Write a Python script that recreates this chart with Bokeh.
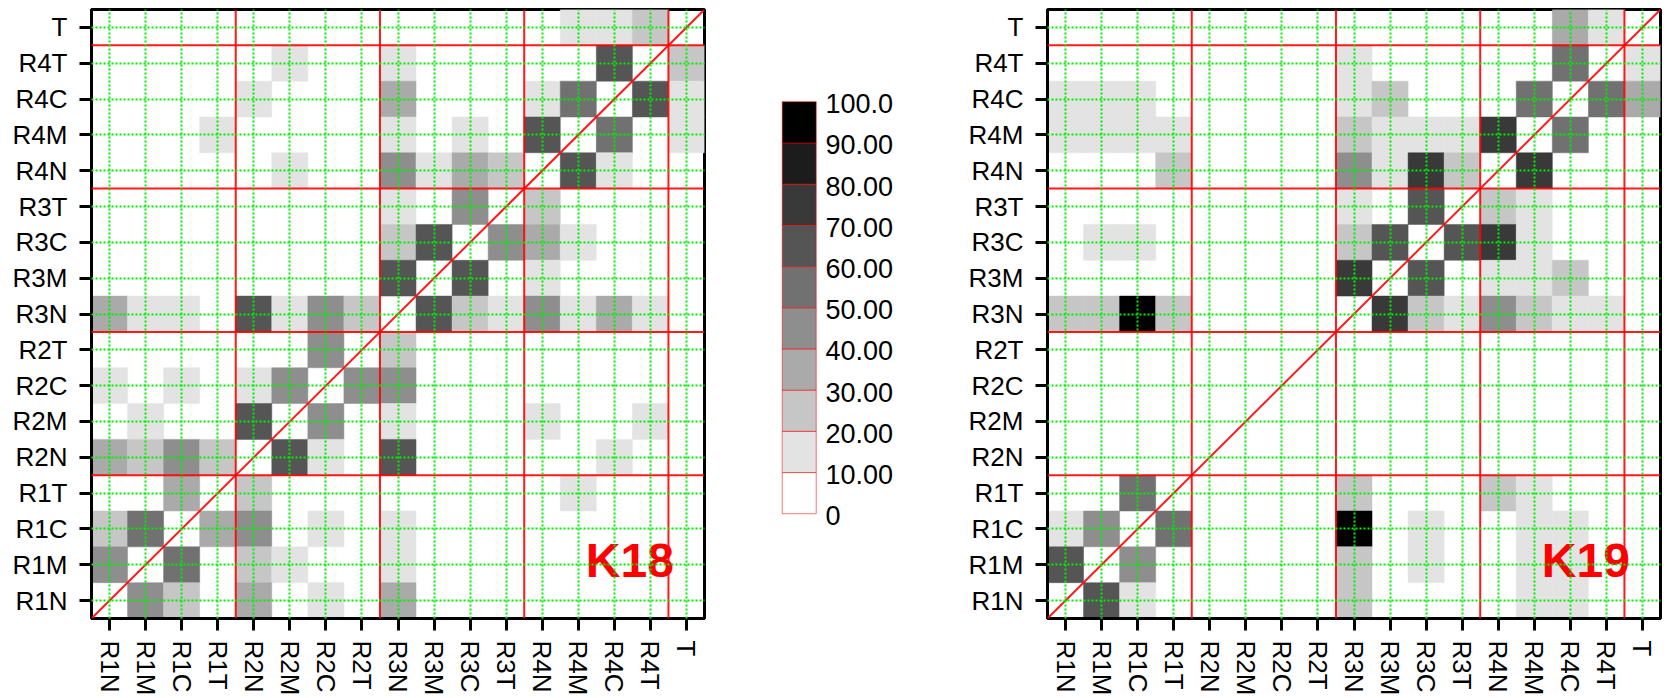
from bokeh.plotting import figure
from bokeh.models import Span, Slope, Label, FactorRange, Range1d, ColumnDataSource
from bokeh.layouts import row
from bokeh.transform import linear_cmap
from bokeh.embed import file_html
from bokeh.resources import INLINE
from bokeh.core.properties import value

FONT = "Liberation Sans"
INK = "#000000"

categories = ["R1N", "R1M", "R1C", "R1T", "R2N", "R2M", "R2C", "R2T",
              "R3N", "R3M", "R3C", "R3T", "R4N", "R4M", "R4C", "R4T", "T"]
group_starts = ["R2N", "R3N", "R4N", "T"]

levels = [0, 10, 20, 30, 40, 50, 60, 70, 80, 90, 100]
level_labels = ["0", "10.00", "20.00", "30.00", "40.00", "50.00",
                "60.00", "70.00", "80.00", "90.00", "100.0"]
palette = ["#ffffff", "#e3e3e3", "#c6c6c6", "#aaaaaa", "#8e8e8e",
           "#717171", "#555555", "#393939", "#1c1c1c", "#000000"]

# ---- K18 (rows top to bottom; columns R1N..T) ----
K18_T   = [0, 0, 0, 0, 0, 0, 0, 0, 0, 0, 0, 0, 0, 15, 15, 25, 0]
K18_R4T = [0, 0, 0, 0, 0, 15, 0, 0, 15, 0, 0, 0, 0, 0, 65, 0, 25]
K18_R4C = [0, 0, 0, 0, 15, 0, 0, 0, 35, 0, 0, 0, 15, 55, 0, 65, 15]
K18_R4M = [0, 0, 0, 15, 0, 0, 0, 0, 15, 0, 15, 0, 65, 0, 55, 0, 15]
K18_R4N = [0, 0, 0, 0, 0, 15, 0, 0, 45, 15, 35, 25, 0, 65, 15, 0, 0]
K18_R3T = [0, 0, 0, 0, 0, 0, 0, 0, 15, 0, 45, 0, 25, 0, 0, 0, 0]
K18_R3C = [0, 0, 0, 0, 0, 0, 0, 0, 25, 65, 0, 45, 35, 15, 0, 0, 0]
K18_R3M = [0, 0, 0, 0, 0, 0, 0, 0, 65, 0, 65, 0, 15, 0, 0, 0, 0]
K18_R3N = [35, 15, 15, 0, 65, 15, 45, 25, 0, 65, 25, 15, 45, 15, 35, 15, 0]
K18_R2T = [0, 0, 0, 0, 0, 0, 45, 0, 25, 0, 0, 0, 0, 0, 0, 0, 0]
K18_R2C = [15, 0, 15, 0, 15, 45, 0, 45, 45, 0, 0, 0, 0, 0, 0, 0, 0]
K18_R2M = [0, 15, 0, 0, 65, 0, 45, 0, 15, 0, 0, 0, 15, 0, 0, 15, 0]
K18_R2N = [35, 25, 45, 25, 0, 65, 15, 0, 65, 0, 0, 0, 0, 0, 15, 0, 0]
K18_R1T = [0, 0, 35, 0, 25, 0, 0, 0, 0, 0, 0, 0, 0, 15, 0, 0, 0]
K18_R1C = [25, 55, 0, 35, 45, 0, 15, 0, 15, 0, 0, 0, 0, 0, 0, 0, 0]
K18_R1M = [45, 0, 55, 0, 25, 15, 0, 0, 15, 0, 0, 0, 0, 0, 0, 0, 0]
K18_R1N = [0, 45, 25, 0, 35, 0, 15, 0, 35, 0, 0, 0, 0, 0, 0, 0, 0]

# ---- K19 ----
K19_T   = [0, 0, 0, 0, 0, 0, 0, 0, 0, 0, 0, 0, 0, 0, 35, 15, 0]
K19_R4T = [0, 0, 0, 0, 0, 0, 0, 0, 15, 0, 0, 0, 0, 0, 55, 0, 15]
K19_R4C = [15, 15, 15, 0, 0, 0, 0, 0, 15, 25, 0, 0, 0, 55, 0, 55, 35]
K19_R4M = [15, 15, 15, 15, 0, 0, 0, 0, 25, 15, 15, 15, 75, 0, 55, 0, 0]
K19_R4N = [0, 0, 0, 25, 0, 0, 0, 0, 45, 15, 75, 25, 0, 75, 0, 0, 0]
K19_R3T = [0, 0, 0, 0, 0, 0, 0, 0, 15, 0, 65, 0, 25, 15, 0, 0, 0]
K19_R3C = [0, 15, 15, 0, 0, 0, 0, 0, 25, 65, 0, 65, 75, 15, 0, 0, 0]
K19_R3M = [0, 0, 0, 0, 0, 0, 0, 0, 75, 0, 65, 0, 15, 15, 25, 0, 0]
K19_R3N = [25, 25, 95, 25, 0, 0, 0, 0, 0, 75, 25, 15, 45, 25, 15, 15, 0]
K19_R2T = [0, 0, 0, 0, 0, 0, 0, 0, 0, 0, 0, 0, 0, 0, 0, 0, 0]
K19_R2C = [0, 0, 0, 0, 0, 0, 0, 0, 0, 0, 0, 0, 0, 0, 0, 0, 0]
K19_R2M = [0, 0, 0, 0, 0, 0, 0, 0, 0, 0, 0, 0, 0, 0, 0, 0, 0]
K19_R2N = [0, 0, 0, 0, 0, 0, 0, 0, 0, 0, 0, 0, 0, 0, 0, 0, 0]
K19_R1T = [0, 0, 55, 0, 0, 0, 0, 0, 25, 0, 0, 0, 25, 15, 0, 0, 0]
K19_R1C = [15, 45, 0, 55, 0, 0, 0, 0, 95, 0, 15, 0, 0, 15, 15, 0, 0]
K19_R1M = [65, 0, 45, 0, 0, 0, 0, 0, 25, 0, 15, 0, 0, 15, 15, 0, 0]
K19_R1N = [0, 65, 15, 0, 0, 0, 0, 0, 25, 0, 0, 0, 0, 15, 15, 0, 0]

K18 = {"T": K18_T, "R4T": K18_R4T, "R4C": K18_R4C, "R4M": K18_R4M, "R4N": K18_R4N,
       "R3T": K18_R3T, "R3C": K18_R3C, "R3M": K18_R3M, "R3N": K18_R3N,
       "R2T": K18_R2T, "R2C": K18_R2C, "R2M": K18_R2M, "R2N": K18_R2N,
       "R1T": K18_R1T, "R1C": K18_R1C, "R1M": K18_R1M, "R1N": K18_R1N}
K19 = {"T": K19_T, "R4T": K19_R4T, "R4C": K19_R4C, "R4M": K19_R4M, "R4N": K19_R4N,
       "R3T": K19_R3T, "R3C": K19_R3C, "R3M": K19_R3M, "R3N": K19_R3N,
       "R2T": K19_R2T, "R2C": K19_R2C, "R2M": K19_R2M, "R2N": K19_R2N,
       "R1T": K19_R1T, "R1C": K19_R1C, "R1M": K19_R1M, "R1N": K19_R1N}

H = 698
TOP, BOTTOM = 9, 77
LEFT, RIGHT = 87, 11


def make_heatmap(matrix, title):
    xs, ys, vs = [], [], []
    for rname, vals in matrix.items():
        for cname, v in zip(categories, vals):
            if v >= 10:
                xs.append(cname)
                ys.append(rname)
                vs.append(v)
    src = ColumnDataSource(dict(x=xs, y=ys, v=vs))
    p = figure(width=LEFT + 613 + RIGHT, height=H,
               x_range=FactorRange(factors=categories),
               y_range=FactorRange(factors=categories),
               toolbar_location=None, output_backend="svg",
               min_border_left=LEFT, min_border_right=RIGHT,
               min_border_top=TOP, min_border_bottom=BOTTOM)
    p.rect(x="x", y="y", width=1, height=1, source=src,
           fill_color=linear_cmap("v", palette, 0, 100),
           line_color=linear_cmap("v", palette, 0, 100), line_width=0.5)
    p.outline_line_color = INK
    p.outline_line_width = 3
    p.outline_line_alpha = 1
    p.grid.grid_line_color = "#00ee00"
    p.grid.grid_line_dash = "2 2"
    p.grid.grid_line_width = 2
    p.grid.level = "overlay"
    for ax in (p.xaxis[0], p.yaxis[0]):
        ax.axis_line_width = 3
        ax.axis_line_color = INK
        ax.major_tick_line_width = 3
        ax.major_tick_line_color = INK
        ax.major_tick_out = 12
        ax.major_tick_in = 0
        ax.major_label_text_font = FONT
        ax.major_label_text_font_size = "26px"
        ax.major_label_text_color = INK
    p.yaxis.major_label_standoff = 12
    p.xaxis.major_label_standoff = 10
    p.xaxis.major_label_orientation = -1.5707963
    for g in group_starts:
        loc = categories.index(g)
        for dim in ("width", "height"):
            p.add_layout(Span(location=loc, dimension=dim, line_color="#ff0000",
                              line_width=2, line_alpha=0.9))
    p.add_layout(Slope(gradient=1, y_intercept=0, line_color="#ff0000",
                       line_width=2, line_alpha=0.9))
    p.add_layout(Label(x=16.15, y=1.62, text=title, text_color="#ff0000",
                       text_font=FONT, text_font_size="48px",
                       text_font_style="bold", text_align="right",
                       text_baseline="alphabetic"))
    return p


# narrow blank lead figure: shifts the K18 map so both maps share one geometry
lead = figure(width=4, height=H, x_range=Range1d(0, 1), y_range=Range1d(0, 1),
              x_axis_type=None, y_axis_type=None, toolbar_location=None,
              output_backend="svg", min_border_left=0, min_border_right=0,
              min_border_top=TOP, min_border_bottom=BOTTOM)
lead.outline_line_color = None

p1 = make_heatmap(K18, "K18")
p2 = make_heatmap(K19, "K19")

cb = figure(width=245, height=H, x_range=Range1d(-1.962, 5.244),
            y_range=Range1d(-25.43, 122.39), x_axis_type=None, y_axis_type=None,
            toolbar_location=None, output_backend="svg",
            min_border_left=0, min_border_right=0,
            min_border_top=TOP, min_border_bottom=BOTTOM)
cb.outline_line_color = None
cb.quad(left=0, right=1, bottom=levels[:-1], top=levels[1:],
        fill_color=palette, line_color="#ff0000", line_alpha=0.55, line_width=1)
cb.text(x=[1.27] * len(levels), y=levels, text=level_labels,
        text_font=value(FONT), text_font_size="27px", text_color=INK,
        text_align="left", text_baseline="middle", y_offset=2)

layout = row(lead, p1, cb, p2)
open("out.html", "w").write(file_html(layout, INLINE))
